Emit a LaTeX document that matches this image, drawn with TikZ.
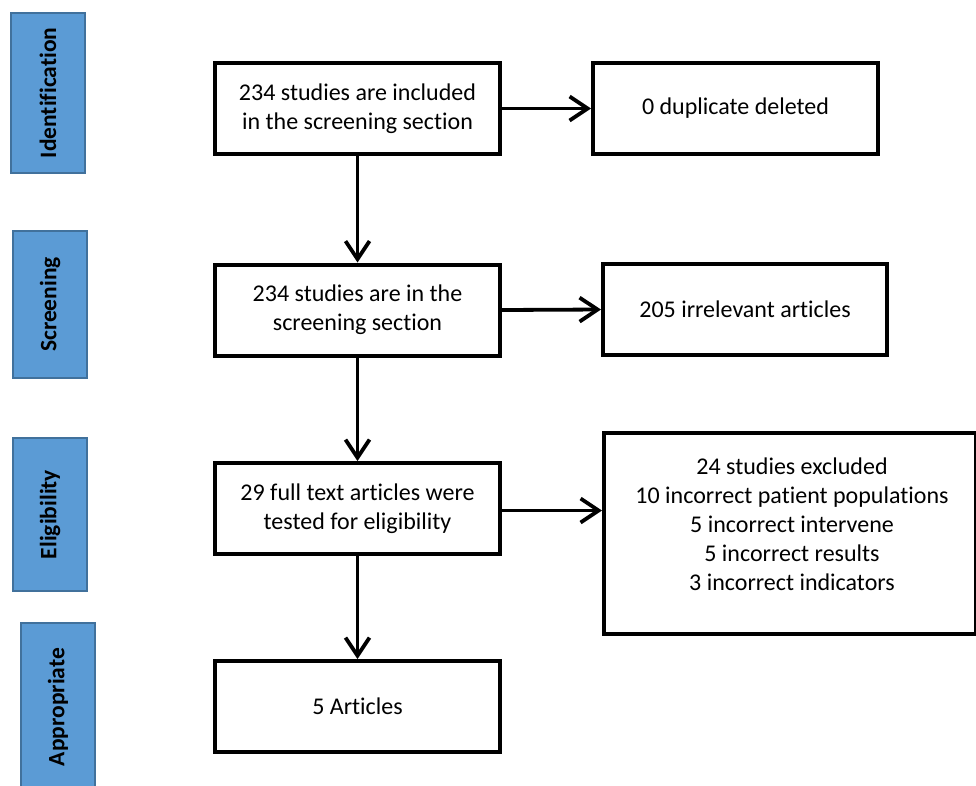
\documentclass[tikz,border=0pt]{standalone}
\usepackage{fontspec}
\setmainfont{Carlito}[Ligatures=NoCommon]
\usetikzlibrary{arrows.meta}
\definecolor{barfill}{HTML}{5B9BD5}
\definecolor{barline}{HTML}{41719C}
\begin{document}
\begin{tikzpicture}[x=1pt,y=-1pt,
  stage/.style={draw=barline, fill=barfill, line width=2pt, rotate=90,
    font=\fontsize{23.5}{28}\selectfont\bfseries, inner sep=0pt, minimum height=74pt},
  box/.style={draw=black, line width=4pt, font=\fontsize{24}{29}\selectfont,
    align=center, inner sep=0pt, minimum width=285pt, minimum height=91pt},
  flow/.style={line width=3.8pt, -{Straight Barb[length=18pt,width=24pt,line width=3.8pt]}}
]
\useasboundingbox (0,0) rectangle (976,785);
% stage bars
\node[stage, minimum width=160pt] (s1) at (48,93) {Identification};
\node[stage, minimum width=147pt] (s2) at (50,304.5) {Screening};
\node[stage, minimum width=153pt] (s3) at (50,514.5) {Eligibility};
\node[stage, minimum width=168pt] (s4) at (58,707) {Appropriate};
% main boxes
\node[box] (b1) at (357.5,108.5) {234 studies are included\\in the screening section};
\node[box] (b2) at (357.5,310) {234 studies are in the\\screening section};
\node[box] (b3) at (357.5,508.5) {29 full text articles were\\tested for eligibility};
\node[box] (b4) at (357.5,706.5) {5 Articles};
% side boxes
\node[box] (d1) at (735.5,108.5) {0 duplicate deleted};
\node[box, minimum width=284pt] (i2) at (745,309.5) {205 irrelevant articles};
\node[box, minimum width=372pt, minimum height=201pt] (e3) at (790,533.5) {};
\node[font=\fontsize{24}{29}\selectfont, align=center, inner sep=0pt] (e3t) at (792,524)
  {24 studies excluded\\10 incorrect patient populations\\5 incorrect intervene\\5 incorrect results\\3 incorrect indicators};
% connectors
\draw[flow] (b1) -- (b2);
\draw[flow] (b2) -- (b3);
\draw[flow] (b3) -- (b4);
\draw[flow] (b1.east) -- (d1.west);
\draw[flow] (b2.east) -- (i2.west);
\draw[flow] ([yshift=-2pt]b3.east) -- ([yshift=-2pt]b3.east -| e3.west);
\end{tikzpicture}
\end{document}
